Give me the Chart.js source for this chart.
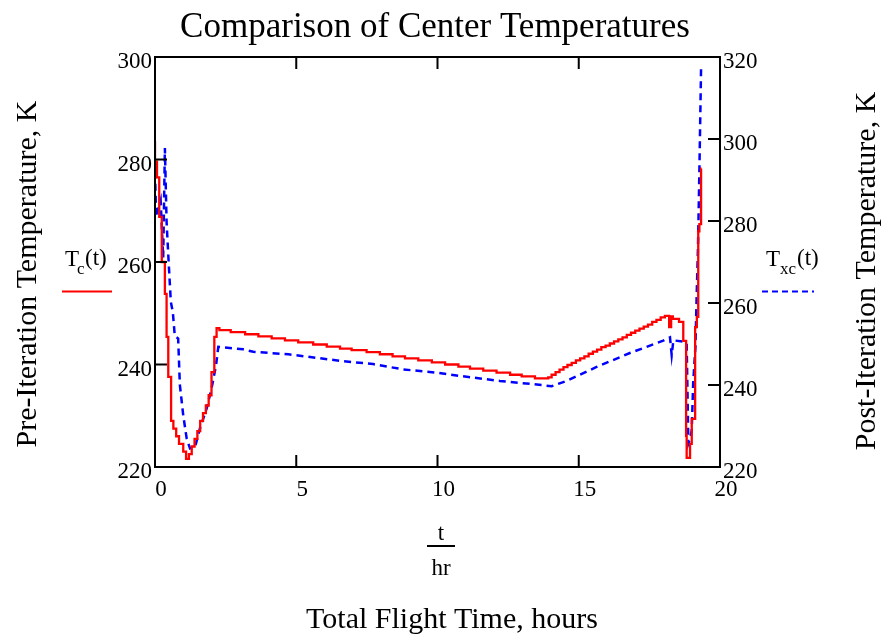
<!DOCTYPE html>
<html>
<head>
<meta charset="utf-8">
<script src="https://cdn.jsdelivr.net/npm/chart.js@4.4.1/dist/chart.umd.min.js"></script>
<style>
  html, body { margin: 0; padding: 0; background: #fff; }
  #wrap { width: 881px; height: 639px; }
</style>
</head>
<body>
<div id="wrap"><canvas id="centerTemps" width="881" height="639"></canvas></div>
<script>
// values
const xTicks = [0, 5, 10, 15, 20];
const leftTicks = [220, 240, 260, 280, 300];
const rightTicks = [220, 240, 260, 280, 300, 320];

// Tc(t), pre-iteration (left axis), drawn as steps
const redTimes = [
    0, 0.07, 0.15, 0.24, 0.35, 0.41, 0.47, 0.57, 0.65, 0.75, 0.85, 1.0, 1.1, 1.2,
    1.3, 1.4, 1.5, 1.6, 1.7, 1.8, 1.9, 2.0, 2.1, 2.18, 2.28,
    2.68, 3.19, 3.66, 4.13, 4.60, 5.07, 5.60, 6.08, 6.55, 6.96, 7.49, 7.96, 8.41,
    8.85, 9.32, 9.80, 10.27, 10.74, 11.15, 11.62, 12.09, 12.57, 12.98, 13.45, 13.92,
    14.04, 14.18, 14.32, 14.46, 14.60, 14.75, 14.90, 15.05, 15.20, 15.35, 15.50,
    15.65, 15.80, 15.95, 16.10, 16.25, 16.40, 16.55, 16.70, 16.85, 17.00, 17.15,
    17.30, 17.45, 17.60, 17.75, 17.90, 18.05, 18.20, 18.27, 18.33, 18.55, 18.70,
    18.80, 18.82, 18.94, 19.0, 19.12, 19.18, 19.23, 19.27, 19.33, 19.35
];
const redTemps = [
    283.6, 279.6, 276.5, 268.8, 260.0, 253.8, 245.4, 237.6, 229.0, 227.5, 226.0, 224.5, 223.0, 221.6,
    222.5, 224.0, 225.5, 227.0, 229.0, 230.5, 232.0, 234.0, 238.5, 245.4, 247.1,
    246.7, 246.3, 245.9, 245.5, 245.1, 244.7, 244.3, 243.9, 243.5, 243.1, 242.8, 242.4, 242.0,
    241.6, 241.2, 240.8, 240.4, 240.0, 239.6, 239.2, 238.8, 238.4, 238.0, 237.7, 237.3,
    237.5, 238.0, 238.5, 239.0, 239.5, 239.9, 240.3, 240.8, 241.2, 241.6, 242.1,
    242.5, 242.9, 243.4, 243.7, 244.1, 244.5, 244.9, 245.3, 245.8, 246.2, 246.6,
    247.0, 247.4, 247.8, 248.3, 248.7, 249.2, 249.5, 247.3, 249.4, 248.9, 248.3,
    244.6, 226.1, 221.8, 224.5, 229.4, 247.3, 249.3, 266.0, 267.4, 278.2
];

// Txc(t), post-iteration (right axis), dashed
const blueTimes = [
    0, 0.04, 0.2, 0.29, 0.35, 0.41, 0.47, 0.56, 0.63, 0.70, 0.82, 0.88, 1.0, 1.12,
    1.24, 1.42, 1.59, 1.83, 2.0, 2.16, 2.24,
    3.12, 3.48, 4.72, 6.55, 7.72, 8.79, 9.97, 11.03, 12.21, 13.39, 14.04,
    14.57, 15.63, 16.81, 17.99, 18.23, 18.29, 18.35, 18.76,
    18.82, 18.88, 18.95, 19.0, 19.05, 19.13, 19.17, 19.22, 19.27, 19.33
];
const blueTemps = [
    292.0, 281.0, 285.0, 271.0, 297.8, 279.8, 271.7, 260.3, 257.8, 252.0, 251.3, 240.0, 232.6, 227.0,
    224.5, 224.9, 229.4, 234.3, 239.1, 244.8, 249.3,
    248.7, 248.1, 247.5, 245.9, 245.1, 243.8, 243.0, 242.0, 241.0, 240.2, 239.7,
    241.0, 244.4, 247.8, 250.8, 251.6, 247.3, 250.9, 250.5,
    250.1, 225.7, 227.0, 229.0, 240.4, 249.3, 260.7, 273.3, 292.1, 317.3
];

const serif = 'Liberation Serif, Times New Roman, serif';

const redPoints = redTimes.map((t, i) => ({ x: t, y: redTemps[i] }));
const bluePoints = blueTimes.map((t, i) => ({ x: t, y: blueTemps[i] }));

// frame, inward ticks and all the free text around the plot
const decorations = {
    id: 'decorations',
    afterDraw(chart) {
        const ctx = chart.ctx;
        const area = chart.chartArea;
        const xs = chart.scales.x, yl = chart.scales.y, yr = chart.scales.y2;
        ctx.save();
        ctx.strokeStyle = '#000';
        ctx.lineWidth = 2;
        ctx.strokeRect(area.left, area.top, area.right - area.left, area.bottom - area.top);

        ctx.beginPath();
        xTicks.forEach(v => {
            const px = xs.getPixelForValue(v);
            ctx.moveTo(px, area.bottom); ctx.lineTo(px, area.bottom - 12);
            ctx.moveTo(px, area.top); ctx.lineTo(px, area.top + 12);
        });
        leftTicks.forEach(v => {
            const py = yl.getPixelForValue(v);
            ctx.moveTo(area.left, py); ctx.lineTo(area.left + 12, py);
        });
        rightTicks.forEach(v => {
            const py = yr.getPixelForValue(v);
            ctx.moveTo(area.right, py); ctx.lineTo(area.right - 12, py);
        });
        ctx.stroke();

        ctx.fillStyle = '#000';
        ctx.textAlign = 'center';
        ctx.textBaseline = 'alphabetic';
        ctx.font = '35px ' + serif;
        ctx.fillText('Comparison of Center Temperatures', 435, 37);

        ctx.font = '30px ' + serif;
        ctx.fillText('Total Flight Time, hours', 452, 628);

        ctx.save();
        ctx.translate(28, 274);
        ctx.rotate(-Math.PI / 2);
        ctx.textBaseline = 'middle';
        ctx.fillText('Pre-Iteration Temperature, K', 0, 0);
        ctx.restore();

        ctx.save();
        ctx.translate(867, 271);
        ctx.rotate(-Math.PI / 2);
        ctx.textBaseline = 'middle';
        ctx.fillText('Post-Iteration Temperature, K', 0, 0);
        ctx.restore();

        // t / hr fraction under the x axis
        ctx.font = '23px ' + serif;
        ctx.fillText('t', 441, 540);
        ctx.fillText('hr', 441, 575);
        ctx.beginPath();
        ctx.moveTo(427, 546); ctx.lineTo(455, 546);
        ctx.stroke();

        // series names
        ctx.textAlign = 'left';
        ctx.font = '23px ' + serif;
        ctx.fillText('T', 65, 266);
        ctx.font = '17px ' + serif;
        ctx.fillText('c', 77, 274);
        ctx.font = '23px ' + serif;
        ctx.fillText('(t)', 85, 265);

        ctx.fillText('T', 766, 266);
        ctx.font = '17px ' + serif;
        ctx.fillText('xc', 780, 274);
        ctx.font = '23px ' + serif;
        ctx.fillText('(t)', 797, 265);

        ctx.lineWidth = 2;
        ctx.strokeStyle = '#ff0000';
        ctx.beginPath();
        ctx.moveTo(62, 291.5); ctx.lineTo(112, 291.5);
        ctx.stroke();

        ctx.strokeStyle = '#0000ff';
        ctx.setLineDash([6, 4]);
        ctx.beginPath();
        ctx.moveTo(762, 291.5); ctx.lineTo(814, 291.5);
        ctx.stroke();
        ctx.restore();
    }
};

const tickFont = { family: serif, size: 23 };

new Chart(document.getElementById('centerTemps'), {
    type: 'line',
    data: {
        datasets: [{
            label: 'Tc(t)',
            data: redPoints,
            yAxisID: 'y',
            borderColor: '#ff0000',
            borderWidth: 2.3,
            stepped: 'after',
            pointRadius: 0,
            fill: false
        }, {
            label: 'Txc(t)',
            data: bluePoints,
            yAxisID: 'y2',
            borderColor: '#0000ff',
            borderWidth: 2.5,
            borderDash: [7, 5],
            tension: 0,
            pointRadius: 0,
            fill: false
        }]
    },
    options: {
        responsive: false,
        animation: false,
        layout: { padding: { top: 57, left: 0, right: 0, bottom: 0 } },
        plugins: {
            legend: { display: false },
            title: { display: false },
            tooltip: { enabled: false }
        },
        scales: {
            x: {
                type: 'linear',
                min: 0,
                max: 20,
                afterBuildTicks: s => { s.ticks = xTicks.map(v => ({ value: v })); },
                afterFit: s => { s.height = 172; },
                grid: { display: false, drawTicks: false },
                border: { display: false },
                ticks: { font: tickFont, color: '#000', padding: 9, labelOffset: 6, maxRotation: 0 }
            },
            y: {
                position: 'left',
                min: 220,
                max: 300,
                afterBuildTicks: s => { s.ticks = leftTicks.map(v => ({ value: v })); },
                afterFit: s => { s.width = 155; },
                grid: { display: false, drawTicks: false },
                border: { display: false },
                ticks: { font: tickFont, color: '#000', padding: 3, labelOffset: 5 }
            },
            y2: {
                position: 'right',
                min: 220,
                max: 320,
                afterBuildTicks: s => { s.ticks = rightTicks.map(v => ({ value: v })); },
                afterFit: s => { s.width = 161; },
                grid: { display: false, drawTicks: false },
                border: { display: false },
                ticks: { font: tickFont, color: '#000', padding: 3, labelOffset: 5 }
            }
        }
    },
    plugins: [decorations]
});
</script>
</body>
</html>
